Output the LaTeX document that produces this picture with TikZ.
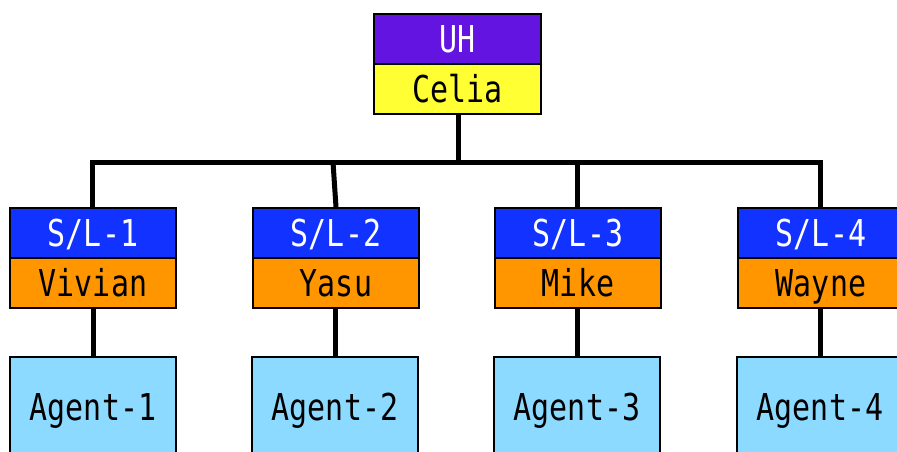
\documentclass[tikz,border=0pt]{standalone}
\usepackage{fontspec}
\newfontfamily\boxfont[FakeStretch=0.81]{DejaVu Sans Mono}
\definecolor{uhpurple}{RGB}{100,20,224}
\definecolor{celiayellow}{RGB}{255,255,51}
\definecolor{slblue}{RGB}{18,51,255}
\definecolor{nameorange}{RGB}{255,150,0}
\definecolor{agentblue}{RGB}{140,218,255}
\begin{document}
\begin{tikzpicture}[x=1pt,y=-1pt,
  cell/.style={draw=black, line width=2pt, minimum width=166pt, minimum height=50pt,
    inner sep=0pt, anchor=north, text height=27pt, text depth=0pt,
    font=\boxfont\fontsize{37}{37}\selectfont},
  rolecell/.style={cell, fill=slblue, text=white},
  namecell/.style={cell, fill=nameorange, text=black},
  agentcell/.style={cell, fill=agentblue, text=black, minimum height=100pt},
  link/.style={line width=5pt, draw=black}]
\useasboundingbox (0,0) rectangle (897,452);
\clip (0,0) rectangle (897,452);
% top
\node[cell, fill=uhpurple, text=white, minimum width=167pt] (uh) at (457.5,13) {UH};
\node[cell, fill=celiayellow, text=black, minimum width=167pt] (celia) at (457.5,63) {Celia};
% second level
\node[rolecell] (sl1) at (93,207) {S/L-1};
\node[namecell] (n1) at (93,257) {Vivian};
\node[rolecell] (sl2) at (336,207) {S/L-2};
\node[namecell] (n2) at (336,257) {Yasu};
\node[rolecell] (sl3) at (578,207) {S/L-3};
\node[namecell] (n3) at (578,257) {Mike};
\node[rolecell] (sl4) at (821,207) {S/L-4};
\node[namecell] (n4) at (821,257) {Wayne};
% agents
\node[agentcell] (a1) at (93,356) {Agent-1};
\node[agentcell] (a2) at (335,356) {Agent-2};
\node[agentcell] (a3) at (577,356) {Agent-3};
\node[agentcell] (a4) at (820,356) {Agent-4};
% connectors
\coordinate (busmid) at (458,162);
\coordinate (bus1) at (92,162);
\coordinate (bus2) at (333,162);
\coordinate (bus3) at (577,162);
\coordinate (bus4) at (820,162);
\draw[link] (celia.south -| busmid) -- (busmid);
\draw[link, line join=miter] (sl1.north -| bus1) -- (bus1) -- (bus4) -- (sl4.north -| bus4);
\draw[link] (bus2) -- (sl2.north);
\draw[link] (bus3) -- (sl3.north -| bus3);
\draw[link] (n1.south -| a1) -- (a1.north);
\draw[link] (n2.south -| a2) -- (a2.north);
\draw[link] (n3.south -| a3) -- (a3.north);
\draw[link] (n4.south -| a4) -- (a4.north);
\end{tikzpicture}
\end{document}
